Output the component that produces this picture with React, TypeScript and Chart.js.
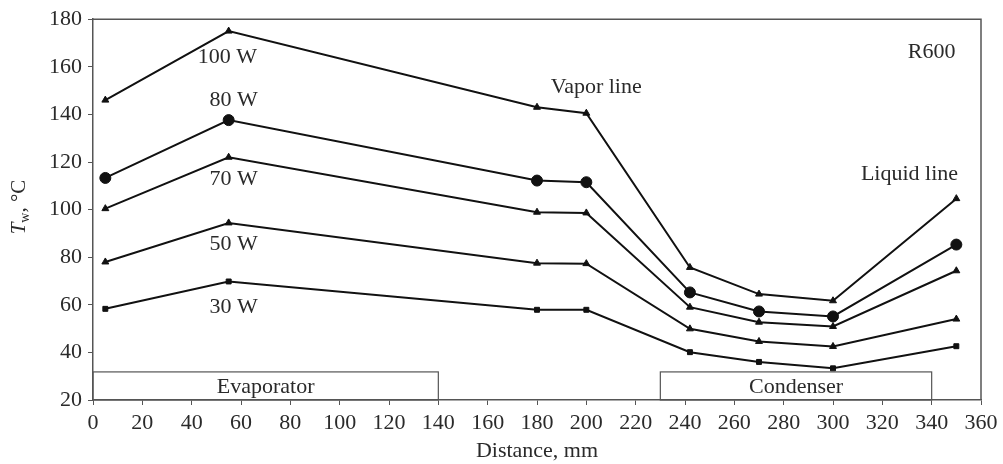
import React, { useEffect, useRef } from "react";
import { Chart, registerables } from "chart.js";

Chart.register(...registerables);

// Distance along the heat pipe (mm) where wall temperature was measured
const distances = [5, 55, 180, 200, 242, 270, 300, 350];

// Wall temperature T_w (°C) for each heat input
const w100 = [146, 175, 143, 140.5, 75.7, 64.5, 61.7, 104.6];
const w80 = [113.3, 137.6, 112.2, 111.5, 65.2, 57.2, 55.1, 85.3];
const w70 = [100.4, 122, 98.9, 98.6, 59, 52.7, 50.9, 74.3];
const w50 = [78, 94.4, 77.5, 77.3, 49.9, 44.6, 42.5, 54];
const w30 = [58.3, 69.8, 57.9, 57.9, 40.1, 36, 33.3, 42.6];

const seriesNames = ["100 W", "80 W", "70 W", "50 W", "30 W"];
const seriesValues = [w100, w80, w70, w50, w30];
const seriesMarkers = ["triangle", "circle", "triangle", "triangle", "rect"];
const seriesMarkerSizes = [4, 5.5, 4, 4, 3.5];

// Axis ranges and tick steps
const xMin = 0;
const xMax = 360;
const xStep = 20;
const yMin = 20;
const yMax = 180;
const yStep = 20;

// Section bars along the bottom: [label, start, end, top]
const sections: [string, number, number, number][] = [
  ["Evaporator", 0, 140, 31.8],
  ["Condenser", 230, 340, 31.8],
];

// Text notes placed in data coordinates: [text, x, y]
const notes: [string, number, number][] = [
  ["100 W", 54.5, 164],
  ["80 W", 57, 146],
  ["70 W", 57, 112.6],
  ["50 W", 57, 85.3],
  ["30 W", 57, 59],
  ["Vapor line", 204, 151.4],
  ["R600", 340, 166.2],
  ["Liquid line", 331, 114.7],
];

const FONT = '"Liberation Serif", "Times New Roman", serif';
const TEXT = "#2a2a2a";
const AXIS = "#555555";
const LINE = "#111111";
const FS = 22;

const decorations = {
  id: "decorations",
  afterDatasetsDraw(chart: any) {
    const { ctx, chartArea, scales } = chart;
    const xs = scales.x;
    const ys = scales.y;
    ctx.save();

    // frame on the top and right sides
    ctx.strokeStyle = AXIS;
    ctx.lineWidth = 1.5;
    ctx.beginPath();
    ctx.moveTo(chartArea.left, chartArea.top);
    ctx.lineTo(chartArea.right, chartArea.top);
    ctx.lineTo(chartArea.right, chartArea.bottom);
    ctx.stroke();

    // evaporator / condenser bars
    ctx.font = `${FS}px ${FONT}`;
    ctx.fillStyle = TEXT;
    ctx.textAlign = "center";
    ctx.textBaseline = "middle";
    ctx.lineWidth = 1.2;
    for (const [label, a, b, top] of sections) {
      const x0 = xs.getPixelForValue(a);
      const x1 = xs.getPixelForValue(b);
      const y0 = ys.getPixelForValue(top);
      const y1 = ys.getPixelForValue(yMin);
      ctx.strokeRect(x0, y0, x1 - x0, y1 - y0);
      ctx.fillText(label, (x0 + x1) / 2, (y0 + y1) / 2 + 1);
    }

    // notes
    for (const [text, x, y] of notes) {
      ctx.fillText(text, xs.getPixelForValue(x), ys.getPixelForValue(y));
    }

    // y axis title: T_w, °C (rotated)
    ctx.translate(19, 207);
    ctx.rotate(-Math.PI / 2);
    ctx.textAlign = "left";
    ctx.textBaseline = "middle";
    const partT = "T";
    const partW = "w";
    const partRest = ", °C";
    ctx.font = `italic 21px ${FONT}`;
    const wT = ctx.measureText(partT).width;
    ctx.font = `14px ${FONT}`;
    const wW = ctx.measureText(partW).width;
    ctx.font = `21px ${FONT}`;
    const wR = ctx.measureText(partRest).width;
    let x = -(wT + wW + wR) / 2;
    ctx.font = `italic 21px ${FONT}`;
    ctx.fillText(partT, x, 0);
    x += wT;
    ctx.font = `14px ${FONT}`;
    ctx.fillText(partW, x, 6);
    x += wW;
    ctx.font = `21px ${FONT}`;
    ctx.fillText(partRest, x, 0);
    ctx.restore();
  },
};

export default function App() {
  const canvasRef = useRef<HTMLCanvasElement | null>(null);

  useEffect(() => {
    document.body.style.margin = "0";
    const canvas = canvasRef.current;
    if (!canvas) return;

    const datasets = seriesNames.map((name, i) => ({
      label: name,
      data: distances.map((d, j) => ({ x: d, y: seriesValues[i][j] })),
      showLine: true,
      borderColor: LINE,
      backgroundColor: LINE,
      borderWidth: 2,
      pointStyle: seriesMarkers[i],
      pointRadius: seriesMarkerSizes[i],
      pointBorderWidth: 1,
      pointBorderColor: LINE,
      pointBackgroundColor: LINE,
      tension: 0,
    }));

    const chart = new Chart(canvas, {
      type: "scatter",
      data: { datasets },
      options: {
        animation: false,
        responsive: false,
        devicePixelRatio: 1,
        layout: { padding: { top: 19, right: 22, left: 0, bottom: 0 } },
        plugins: {
          legend: { display: false },
          tooltip: { enabled: false },
        },
        scales: {
          x: {
            type: "linear",
            min: xMin,
            max: xMax,
            afterFit: (s: any) => {
              s.height = 64;
            },
            ticks: {
              stepSize: xStep,
              color: TEXT,
              padding: 5,
              font: { family: FONT, size: FS },
              maxRotation: 0,
              autoSkip: false,
            },
            grid: {
              display: true,
              drawOnChartArea: false,
              drawTicks: true,
              tickLength: 5,
              color: AXIS,
            },
            border: { display: true, color: AXIS, width: 1.5 },
            title: {
              display: true,
              text: "Distance, mm",
              color: TEXT,
              font: { family: FONT, size: FS },
              padding: { top: 0, bottom: 0 },
            },
          },
          y: {
            type: "linear",
            min: yMin,
            max: yMax,
            afterFit: (s: any) => {
              s.width = 93;
            },
            ticks: {
              stepSize: yStep,
              color: TEXT,
              padding: 6,
              font: { family: FONT, size: FS },
              autoSkip: false,
            },
            grid: {
              display: true,
              drawOnChartArea: false,
              drawTicks: true,
              tickLength: 5,
              color: AXIS,
            },
            border: { display: true, color: AXIS, width: 1.5 },
          },
        },
      },
      plugins: [decorations],
    });

    return () => chart.destroy();
  }, []);

  return (
    <div style={{ width: 1003, height: 464 }}>
      <canvas ref={canvasRef} width={1003} height={464} />
    </div>
  );
}
